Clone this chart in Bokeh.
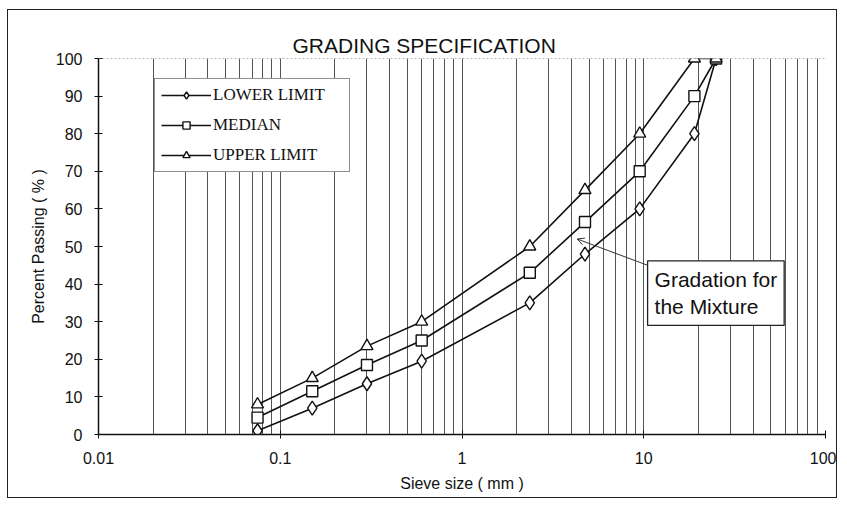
from bokeh.plotting import figure
from bokeh.embed import file_html
from bokeh.resources import INLINE
from bokeh.models import (Range1d, LogTicker, FixedTicker, CustomJSTickFormatter, Span,
                          Label, Arrow, OpenHead, Legend)

sieve_mm = [0.075, 0.15, 0.3, 0.6, 2.36, 4.75, 9.5, 19, 25]
lower_limit = [1, 7, 13.5, 19.5, 35, 48, 60, 80, 100]
median = [4.5, 11.5, 18.5, 25, 43, 56.5, 70, 90, 100]
upper_limit = [8, 15, 23.5, 30, 50, 65, 80, 100, 100]
y_ticks = [0, 10, 20, 30, 40, 50, 60, 70, 80, 90, 100]
x_ticks = [0.01, 0.1, 1, 10, 100]
title_text = "GRADING SPECIFICATION"
note_text = "Gradation for\nthe Mixture"

SANS = "Liberation Sans"
SERIF = "Liberation Serif"

p = figure(width=830, height=489, x_axis_type="log",
           x_range=Range1d(0.01, 100), y_range=Range1d(0, 100),
           output_backend="svg", toolbar_location=None,
           min_border_left=90, min_border_right=13, min_border_top=48, min_border_bottom=65)
p.styles = {"border": "1.5px solid #222", "margin-left": "7px", "margin-top": "9px"}
p.outline_line_color = None
p.background_fill_color = "white"

p.title.text = title_text
p.title.align = "left"
p.title.offset = 194
p.title.text_font = SANS
p.title.text_font_size = "21px"
p.title.text_font_style = "normal"
p.title.text_color = "#111"
p.title.standoff = 4

# axes
p.xaxis.ticker = LogTicker(num_minor_ticks=10)
p.xaxis.formatter = CustomJSTickFormatter(code="return String(Number(tick.toPrecision(3)));")
p.yaxis.ticker = FixedTicker(ticks=y_ticks)
for ax in (p.xaxis[0], p.yaxis[0]):
    ax.axis_line_color = "#111"
    ax.axis_line_width = 1.5
    ax.major_tick_line_color = "#111"
    ax.major_tick_in = 4
    ax.major_tick_out = 4
    ax.minor_tick_line_color = None
    ax.major_label_text_font = SANS
    ax.major_label_text_font_size = "16px"
    ax.major_label_text_color = "#111"
    ax.axis_label_text_font = SANS
    ax.axis_label_text_font_size = "16px"
    ax.axis_label_text_font_style = "normal"
    ax.axis_label_text_color = "#111"
p.xaxis.axis_label = "Sieve size ( mm )"
p.yaxis.axis_label = "Percent Passing ( % )"
p.xaxis.major_label_standoff = 13
p.xaxis.axis_label_standoff = 8
p.yaxis.major_label_standoff = 12
p.yaxis.axis_label_standoff = 6

# grid
p.ygrid.grid_line_color = None
p.xgrid.grid_line_color = "#555"
p.xgrid.grid_line_width = 1
p.xgrid.minor_grid_line_color = "#555"
p.xgrid.minor_grid_line_width = 1
p.add_layout(Span(location=100, dimension="width", line_color="#777",
                  line_dash="2 2", line_width=1))

series = [
    ("LOWER LIMIT", lower_limit, "diamond", 14),
    ("MEDIAN", median, "square", 11),
    ("UPPER LIMIT", upper_limit, "triangle", 12),
]
items = []
for name, vals, marker, size in series:
    r1 = p.line(sieve_mm, vals, line_color="#111", line_width=1.6)
    r2 = p.scatter(sieve_mm, vals, marker=marker, size=size, fill_color="white",
                   line_color="#111", line_width=1.4)
    items.append((name, [r1, r2]))

legend = Legend(items=items, location=(56, 262))
legend.label_text_font = SERIF
legend.label_text_font_size = "17px"
legend.label_text_color = "#111"
legend.border_line_color = "#222"
legend.border_line_width = 1.2
legend.background_fill_color = "white"
legend.background_fill_alpha = 1
legend.glyph_width = 50
legend.glyph_height = 18
legend.label_height = 18
legend.label_width = 130
legend.spacing = 10
legend.padding = 6
legend.margin = 0
legend.label_standoff = 2
p.add_layout(legend, "center")

p.add_layout(Label(x=10.5, y=29, text=note_text, text_font=SANS,
                   text_font_size="21px", text_color="#111", text_line_height=1.2,
                   border_line_color="#222", border_line_width=1.3,
                   background_fill_color="white", padding=7))
p.add_layout(Arrow(x_start=10.5, y_start=45, x_end=4.3, y_end=52,
                   line_color="#333", line_width=1,
                   end=OpenHead(size=7, line_color="#333", line_width=1)))

open("out.html", "w").write(file_html(p, INLINE))
